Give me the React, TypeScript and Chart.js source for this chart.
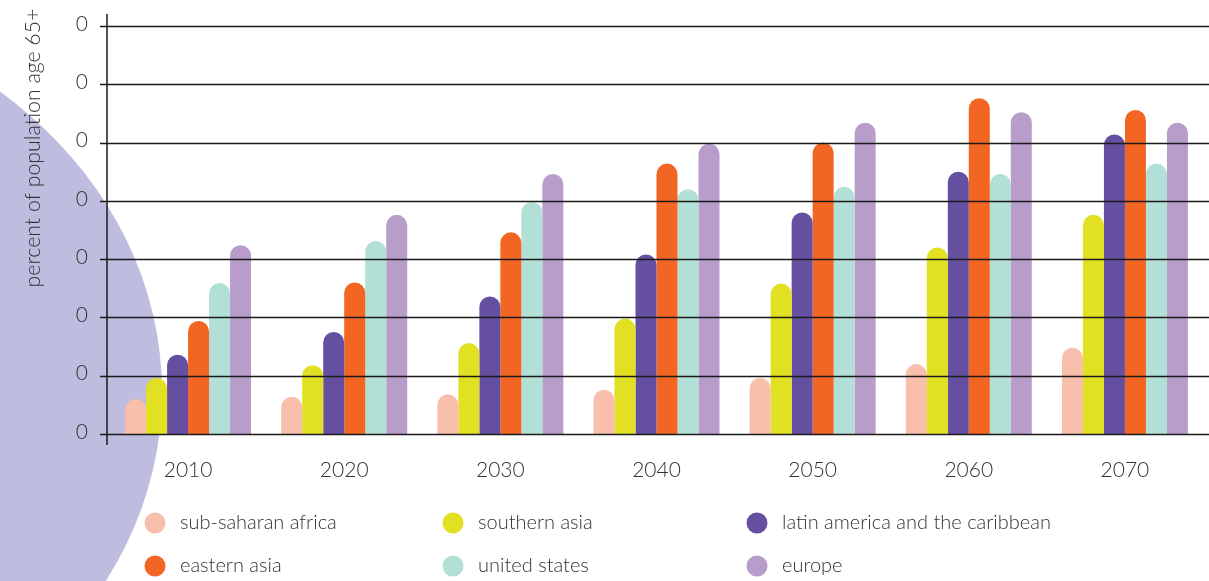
import React, { useEffect, useRef } from "react";
import { Chart, registerables } from "chart.js";

Chart.register(...registerables);

const years = ["2010", "2020", "2030", "2040", "2050", "2060", "2070"];
const seriesNames = [
  "sub-saharan africa",
  "southern asia",
  "latin america and the caribbean",
  "eastern asia",
  "united states",
  "europe",
];
const subSaharanAfrica = [3.0, 3.2, 3.4, 3.8, 4.8, 6.0, 7.4];
const southernAsia = [4.8, 5.9, 7.8, 9.9, 12.9, 16.0, 18.8];
const latinAmerica = [6.8, 8.75, 11.8, 15.4, 19.0, 22.5, 25.7];
const easternAsia = [9.7, 13.0, 17.3, 23.2, 25.0, 28.8, 27.8];
const unitedStates = [12.95, 16.55, 19.9, 21.0, 21.2, 22.3, 23.2];
const europe = [16.2, 18.8, 22.3, 24.9, 26.7, 27.6, 26.7];
const colors = ["#F9BFAD", "#E2E022", "#654FA0", "#F26522", "#B2DFD6", "#B89DCB"];
const yTicks = [0, 5, 10, 15, 20, 25, 30, 35];
const yTickLabels = ["0", "0", "0", "0", "0", "0", "0", "0"];
const yTitle = "percent of population age 65+";

const FONT = "Lato, 'Open Sans', sans-serif";

const decorPlugin = {
  id: "decor",
  beforeDraw(chart: any) {
    const ctx = chart.ctx;
    ctx.save();
    ctx.fillStyle = "#BEBCDF";
    ctx.beginPath();
    ctx.ellipse(-300, 392, 462, 395, 0, 0, Math.PI * 2);
    ctx.fill();
    ctx.restore();
  },
  afterDatasetsDraw(chart: any) {
    const ctx = chart.ctx;
    const y = chart.scales.y;
    const W = chart.width;
    ctx.save();
    ctx.strokeStyle = "#1a1a1a";
    ctx.lineWidth = 1.5;
    yTicks.forEach((t, i) => {
      const py = Math.round(y.getPixelForValue(t)) + 0.5;
      ctx.beginPath();
      ctx.moveTo(100, py);
      ctx.lineTo(W, py);
      ctx.stroke();
    });
    ctx.beginPath();
    ctx.moveTo(107, 14);
    ctx.lineTo(107, 445);
    ctx.stroke();
    ctx.fillStyle = "#333";
    ctx.font = `300 21px ${FONT}`;
    ctx.textAlign = "right";
    ctx.textBaseline = "middle";
    yTicks.forEach((t, i) => {
      const py = y.getPixelForValue(t);
      ctx.fillText(yTickLabels[i], 88, py - 2);
    });
    ctx.restore();
  },
  afterDraw(chart: any) {
    const ctx = chart.ctx;
    ctx.save();
    ctx.fillStyle = "#333";
    ctx.font = `300 21.3px ${FONT}`;
    ctx.translate(33, 148);
    ctx.rotate(-Math.PI / 2);
    ctx.textAlign = "center";
    ctx.textBaseline = "middle";
    ctx.fillText(yTitle, 0, 0);
    ctx.restore();

    ctx.save();
    const cols = [155, 453, 757];
    const rows = [523, 566];
    seriesNames.forEach((name, i) => {
      const cx = cols[i % 3];
      const cy = rows[Math.floor(i / 3)];
      ctx.fillStyle = colors[i];
      ctx.beginPath();
      ctx.arc(cx, cy, 10.5, 0, Math.PI * 2);
      ctx.fill();
      ctx.fillStyle = "#333";
      ctx.font = `300 20px ${FONT}`;
      ctx.textAlign = "left";
      ctx.textBaseline = "middle";
      ctx.fillText(name, cx + 25, cy);
    });
    ctx.restore();
  },
};

export default function App() {
  const ref = useRef<HTMLCanvasElement | null>(null);
  useEffect(() => {
    document.body.style.margin = "0";
    const all = [subSaharanAfrica, southernAsia, latinAmerica, easternAsia, unitedStates, europe];
    const chart = new Chart(ref.current!, {
      type: "bar",
      data: {
        labels: years,
        datasets: all.map((d, i) => ({
          label: seriesNames[i],
          data: d,
          backgroundColor: colors[i],
          borderWidth: 0,
          borderRadius: 100,
          borderSkipped: "start",
          categoryPercentage: 0.807,
          barPercentage: 1,
        })),
      },
      options: {
        animation: false,
        responsive: false,
        maintainAspectRatio: false,
        layout: { padding: { top: 26, right: 6, left: 0, bottom: 0 } },
        plugins: { legend: { display: false }, tooltip: { enabled: false } },
        scales: {
          x: {
            grid: { display: false },
            border: { display: false },
            ticks: {
              color: "#333",
              font: { family: FONT, size: 21, weight: "300" },
              padding: 16,
              maxRotation: 0,
            },
            afterFit(scale: any) {
              scale.height = 147;
            },
          },
          y: {
            min: 0,
            max: 35,
            grid: { display: false },
            border: { display: false },
            ticks: { display: false },
            afterFit(scale: any) {
              scale.width = 110;
            },
          },
        },
      },
      plugins: [decorPlugin],
    });
    return () => chart.destroy();
  }, []);
  return (
    <div style={{ position: "absolute", left: 0, top: 0, width: 1209, height: 581 }}>
      <canvas ref={ref} width={1209} height={581} style={{ width: 1209, height: 581 }} />
    </div>
  );
}
